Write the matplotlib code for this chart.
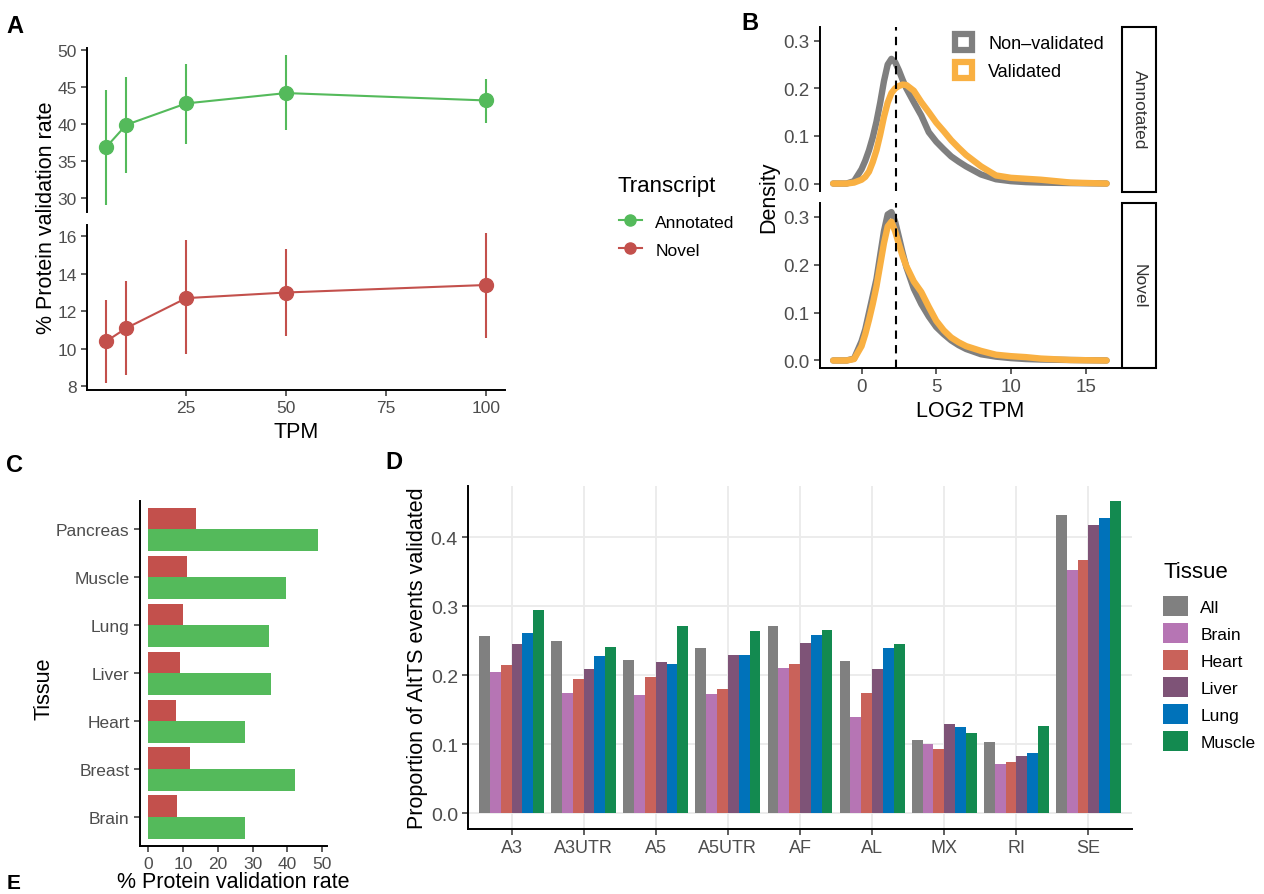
"""Multi-panel figure: protein validation rates (A, C), TPM densities (B),
and AltTS event validation by tissue (D)."""
import matplotlib
matplotlib.use("Agg")
import matplotlib.pyplot as plt
from matplotlib.lines import Line2D
from matplotlib.patches import Patch, Rectangle
import numpy as np

plt.rcParams["font.family"] = ["Liberation Sans", "DejaVu Sans"]

W, H = 1264, 895

# ---- panel A: validation rate vs TPM cutoff
TPM = [5, 10, 25, 50, 100]
ANN_RATE = [36.9, 39.9, 42.8, 44.2, 43.2]
ANN_LO = [29.1, 33.4, 37.3, 39.2, 40.2]
ANN_HI = [44.6, 46.4, 48.2, 49.3, 46.1]
NOV_RATE = [10.4, 11.1, 12.7, 13.0, 13.4]
NOV_LO = [8.2, 8.6, 9.7, 10.7, 10.6]
NOV_HI = [12.6, 13.6, 15.8, 15.3, 16.2]

# ---- panel B: LOG2 TPM densities
DENS_X = [-1.9, -1, -0.5, 0, 0.25, 0.5, 0.75, 1, 1.25, 1.5, 1.75, 2, 2.25,
          2.5, 2.75, 3, 3.5, 4, 4.5, 5, 5.5, 6, 6.5, 7, 8, 9, 10, 11, 12, 14,
          16.4]
ANN_NONVAL = [0, 0, 0.005, 0.03, 0.048, 0.07, 0.097, 0.13, 0.17, 0.215, 0.25,
              0.262, 0.255, 0.238, 0.218, 0.2, 0.171, 0.143, 0.108, 0.088,
              0.072, 0.057, 0.046, 0.036, 0.019, 0.009, 0.005, 0.003, 0.002,
              0.001, 0]
ANN_VAL = [0, 0, 0.002, 0.008, 0.014, 0.025, 0.045, 0.07, 0.103, 0.14, 0.17,
           0.19, 0.2, 0.205, 0.208, 0.207, 0.195, 0.171, 0.15, 0.128, 0.11,
           0.091, 0.075, 0.06, 0.036, 0.017, 0.012, 0.01, 0.008, 0.002, 0]
NOV_NONVAL = [0, 0, 0.004, 0.04, 0.065, 0.1, 0.135, 0.17, 0.22, 0.27, 0.305,
              0.31, 0.29, 0.258, 0.225, 0.195, 0.15, 0.118, 0.092, 0.07, 0.055,
              0.042, 0.032, 0.024, 0.013, 0.008, 0.005, 0.003, 0.002, 0.001, 0]
NOV_VAL = [0, 0, 0.003, 0.03, 0.055, 0.085, 0.118, 0.155, 0.2, 0.245, 0.28,
           0.29, 0.27, 0.243, 0.218, 0.197, 0.165, 0.143, 0.112, 0.083, 0.063,
           0.048, 0.038, 0.03, 0.02, 0.012, 0.009, 0.007, 0.004, 0.001, 0]
TPM_CUTOFF = 2.33

# ---- panel C: validation rate by tissue
TISSUES_C = ["Brain", "Breast", "Heart", "Liver", "Lung", "Muscle", "Pancreas"]
C_ANNOTATED = [27.8, 42.3, 27.9, 35.4, 34.9, 39.6, 48.8]
C_NOVEL = [8.1, 12.0, 7.8, 9.2, 9.9, 11.1, 13.7]

# ---- panel D: AltTS events validated
EVENTS = ["A3", "A3UTR", "A5", "A5UTR", "AF", "AL", "MX", "RI", "SE"]
TISSUES_D = ["All", "Brain", "Heart", "Liver", "Lung", "Muscle"]
D_ALL = [0.257, 0.249, 0.222, 0.240, 0.271, 0.220, 0.107, 0.103, 0.432]
D_BRAIN = [0.205, 0.175, 0.171, 0.173, 0.211, 0.140, 0.100, 0.072, 0.352]
D_HEART = [0.215, 0.194, 0.198, 0.180, 0.216, 0.174, 0.093, 0.075, 0.367]
D_LIVER = [0.246, 0.209, 0.219, 0.229, 0.247, 0.209, 0.129, 0.083, 0.418]
D_LUNG = [0.261, 0.228, 0.217, 0.229, 0.258, 0.239, 0.125, 0.087, 0.428]
D_MUSCLE = [0.294, 0.241, 0.271, 0.264, 0.266, 0.246, 0.116, 0.127, 0.452]
D_COLORS = ["#808080", "#B675B4", "#C9625A", "#7E5377", "#0072BA", "#138A50"]

GREEN = "#54BA5B"
RED = "#C3504C"
GREY_D = "#7F7F7F"
ORANGE = "#F9B042"
TICK_COL = "#4D4D4D"


def rect(l, t, r, b):
    return [l / W, 1 - b / H, (r - l) / W, (b - t) / H]


def fx(x):
    return x / W


def fy(y):
    return 1 - y / H


def classic(ax, bottom=True, size=12):
    for s in ["top", "right"]:
        ax.spines[s].set_visible(False)
    ax.spines["left"].set_linewidth(1.4)
    ax.spines["bottom"].set_linewidth(1.4)
    if not bottom:
        ax.spines["bottom"].set_visible(False)
        ax.tick_params(axis="x", bottom=False, labelbottom=False)
    ax.tick_params(colors="#333333", labelcolor=TICK_COL, length=4, width=1.1,
                   labelsize=size)


fig = plt.figure(figsize=(W / 100, H / 100), dpi=100)

# ================= A =================
axA1 = fig.add_axes(rect(87.3, 49, 505, 213))
axA2 = fig.add_axes(rect(87.3, 226, 505, 391))
for ax, y, lo, hi, col in [(axA1, ANN_RATE, ANN_LO, ANN_HI, GREEN),
                           (axA2, NOV_RATE, NOV_LO, NOV_HI, RED)]:
    ax.vlines(TPM, lo, hi, color=col, lw=1.5)
    ax.plot(TPM, y, color=col, lw=1.5, marker="o", ms=10)
    ax.set_xlim(0.25, 104.75)
axA1.set_ylim(28.1, 50.3)
axA1.set_yticks([30, 35, 40, 45, 50])
axA2.set_ylim(7.8, 16.6)
axA2.set_yticks([8, 10, 12, 14, 16])
axA2.set_xticks([25, 50, 75, 100])
classic(axA1, bottom=False, size=12.5)
classic(axA2, size=12.5)
axA2.set_xlabel("TPM", fontsize=15.5, labelpad=4)
fig.text(fx(47), fy(218), "% Protein validation rate", rotation=90,
         fontsize=15.5, ha="center", va="center")

fig.text(fx(617), fy(187), "Transcript", fontsize=16, ha="left", va="center")
handlesA = [Line2D([], [], color=GREEN, lw=1.5, marker="o", ms=8),
            Line2D([], [], color=RED, lw=1.5, marker="o", ms=8)]
fig.legend(handlesA, ["Annotated", "Novel"], loc="upper left",
           bbox_to_anchor=(fx(619), fy(214)), frameon=False, fontsize=12.5,
           borderpad=0, borderaxespad=0, handlelength=1.3, handleheight=1.0,
           labelspacing=0.66, handletextpad=0.8)

# ================= B =================
axB1 = fig.add_axes(rect(820, 28, 1120, 192))
axB2 = fig.add_axes(rect(820, 204, 1120, 369))
for ax, nonval, val, strip, top in [(axB1, ANN_NONVAL, ANN_VAL, "Annotated", 28),
                                    (axB2, NOV_NONVAL, NOV_VAL, "Novel", 204)]:
    ax.plot(DENS_X, nonval, color=GREY_D, lw=4.6, solid_capstyle="round",
            solid_joinstyle="round")
    ax.plot(DENS_X, val, color=ORANGE, lw=4.6, solid_capstyle="round",
            solid_joinstyle="round")
    ax.axvline(TPM_CUTOFF, color="black", lw=1.5, ls=(0, (4, 3)))
    ax.set_xlim(-2.78, 17.3)
    ax.set_ylim(-0.0157, 0.329)
    ax.set_yticks([0.0, 0.1, 0.2, 0.3])
    ax.set_yticklabels(["0.0", "0.1", "0.2", "0.3"])
    # facet strip
    bottom_px = top + 164.5
    fig.patches.append(Rectangle((fx(1122), fy(bottom_px)), 33.5 / W,
                                 (bottom_px - top) / H, transform=fig.transFigure,
                                 facecolor="white", edgecolor="black", lw=1.5))
    fig.text(fx(1139), fy(top + 82), strip, rotation=-90, fontsize=12.5,
             ha="center", va="center", color="#333333")
axB2.set_xticks([0, 5, 10, 15])
classic(axB1, bottom=False, size=13.5)
classic(axB2, size=13.5)
axB2.set_xlabel("LOG2 TPM", fontsize=15.5, labelpad=3)
fig.text(fx(769), fy(197), "Density", rotation=90, fontsize=15.5,
         ha="center", va="center")
handlesB = [Patch(facecolor="white", edgecolor=GREY_D, lw=4.5),
            Patch(facecolor="white", edgecolor=ORANGE, lw=4.5)]
fig.legend(handlesB, ["Non\u2013validated", "Validated"], loc="upper left",
           bbox_to_anchor=(fx(955), fy(35)), frameon=False, fontsize=13,
           borderpad=0, borderaxespad=0, handlelength=0.95, handleheight=0.95,
           labelspacing=0.58, handletextpad=0.9)

# ================= C =================
axC = fig.add_axes(rect(140, 501.7, 326.7, 846.7))
yC = np.arange(1, len(TISSUES_C) + 1)
axC.barh(yC - 0.225, C_ANNOTATED, height=0.45, color=GREEN)
axC.barh(yC + 0.225, C_NOVEL, height=0.45, color=RED)
axC.set_yticks(yC)
axC.set_yticklabels(TISSUES_C)
axC.set_ylim(0.4, 7.6)
axC.set_xlim(-2.45, 51.4)
axC.set_xticks([0, 10, 20, 30, 40, 50])
classic(axC, size=12.5)
axC.set_xlabel("% Protein validation rate", fontsize=15.5, labelpad=0)
fig.text(fx(44), fy(689), "Tissue", rotation=90, fontsize=15.5,
         ha="center", va="center")

# ================= D =================
axD = fig.add_axes(rect(468.3, 486.7, 1131.7, 830))
xD = np.arange(1, len(EVENTS) + 1)
bw = 0.15
for i, (name, vals) in enumerate(zip(TISSUES_D, [D_ALL, D_BRAIN, D_HEART,
                                                  D_LIVER, D_LUNG, D_MUSCLE])):
    axD.bar(xD + (i - 2.5) * bw, vals, width=bw, color=D_COLORS[i], label=name)
axD.set_xticks(xD)
axD.set_xticklabels(EVENTS)
axD.set_xlim(0.4, 9.6)
axD.set_ylim(-0.0226, 0.4746)
axD.set_yticks([0.0, 0.1, 0.2, 0.3, 0.4])
axD.set_yticklabels(["0.0", "0.1", "0.2", "0.3", "0.4"])
axD.grid(True, color="#EBEBEB", lw=1.3)
axD.set_axisbelow(True)
classic(axD, size=13)
axD.tick_params(axis="y", labelsize=14)
fig.text(fx(418), fy(658), "Proportion of AltTS events validated",
         rotation=90, fontsize=15.5, ha="center", va="center")
fig.text(fx(1163), fy(572), "Tissue", fontsize=16, ha="left", va="center")
fig.legend(*axD.get_legend_handles_labels(), loc="upper left",
           bbox_to_anchor=(fx(1163), fy(596.5)), frameon=False, fontsize=12.5,
           borderpad=0, borderaxespad=0, handlelength=1.45, handleheight=1.45,
           labelspacing=0.37, handletextpad=0.7)

# panel letters
for lab, x, y in [("A", 6, 15), ("B", 741, 12), ("C", 6, 454), ("D", 385, 451)]:
    fig.text(fx(x), fy(y), lab, fontsize=17, fontweight="bold",
             ha="left", va="top")
# "E" belongs to the next panel and sits at the lower edge
fig.text(fx(7), fy(889), "E", fontsize=15, fontweight="bold",
         ha="left", va="baseline")

fig.savefig("out.png", dpi=100)
